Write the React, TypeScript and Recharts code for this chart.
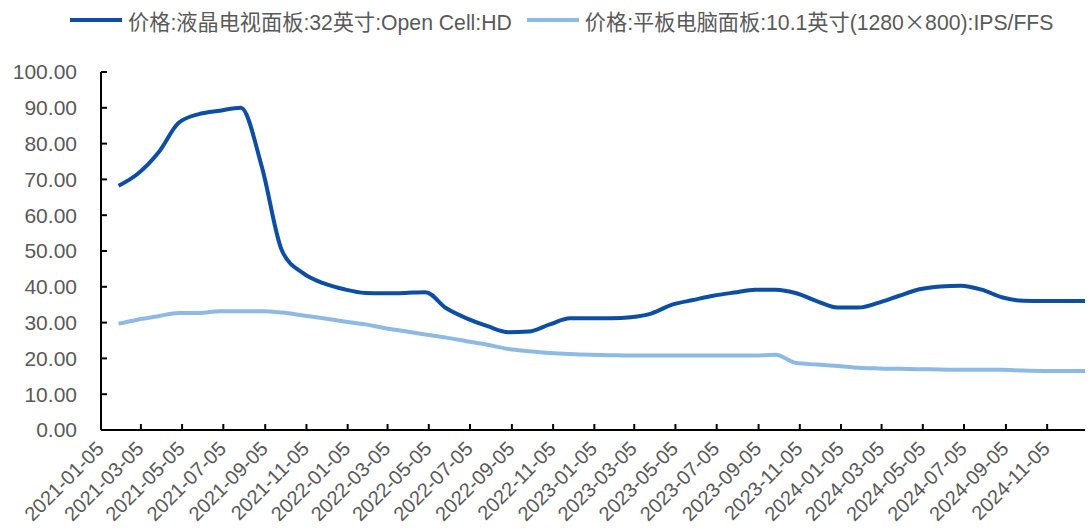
import React from 'react';
import { LineChart, Line, XAxis, YAxis, Legend } from 'recharts';

const dates: string[] = [
  '2021-01-31','2021-02-28','2021-03-31','2021-04-30','2021-05-31','2021-06-30',
  '2021-07-31','2021-08-31','2021-09-30','2021-10-31','2021-11-30','2021-12-31',
  '2022-01-31','2022-02-28','2022-03-31','2022-04-30','2022-05-31','2022-06-30',
  '2022-07-31','2022-08-31','2022-09-30','2022-10-31','2022-11-30','2022-12-31',
  '2023-01-31','2023-02-28','2023-03-31','2023-04-30','2023-05-31','2023-06-30',
  '2023-07-31','2023-08-31','2023-09-30','2023-10-31','2023-11-30','2023-12-31',
  '2024-01-31','2024-02-29','2024-03-31','2024-04-30','2024-05-31','2024-06-30',
  '2024-07-31','2024-08-31','2024-09-30','2024-10-31','2024-11-30','2024-12-31',
];

const tvPanel32: number[] = [
  68.2, 71.5, 77.5, 85.8, 88.3, 89.2, 90.0, 73.5, 50.0, 43.8, 41.0, 39.3,
  38.3, 38.2, 38.3, 38.5, 34.0, 31.2, 29.0, 27.3, 27.5, 29.5, 31.2, 31.2,
  31.2, 31.5, 32.6, 35.0, 36.3, 37.5, 38.4, 39.2, 39.2, 38.2, 36.0, 34.2,
  34.2, 35.5, 37.5, 39.3, 40.1, 40.3, 39.2, 37.0, 36.1, 36.0, 36.0, 36.0,
];

const tabletPanel101: number[] = [
  29.7, 30.8, 31.8, 32.7, 32.7, 33.2, 33.2, 33.2, 32.8, 32.0, 31.2, 30.3,
  29.5, 28.5, 27.6, 26.7, 25.8, 24.8, 23.8, 22.6, 22.0, 21.5, 21.2, 21.0,
  20.9, 20.8, 20.8, 20.8, 20.8, 20.8, 20.8, 20.8, 21.0, 18.7, 18.3, 17.9,
  17.4, 17.2, 17.1, 17.0, 16.9, 16.8, 16.8, 16.8, 16.6, 16.5, 16.5, 16.5,
];

const tickDates: string[] = [
  '2021-01-05','2021-03-05','2021-05-05','2021-07-05','2021-09-05','2021-11-05',
  '2022-01-05','2022-03-05','2022-05-05','2022-07-05','2022-09-05','2022-11-05',
  '2023-01-05','2023-03-05','2023-05-05','2023-07-05','2023-09-05','2023-11-05',
  '2024-01-05','2024-03-05','2024-05-05','2024-07-05','2024-09-05','2024-11-05',
];

const yTicks: number[] = [0, 10, 20, 30, 40, 50, 60, 70, 80, 90, 100];

const seriesNames: string[] = [
  '价格:液晶电视面板:32英寸:Open Cell:HD',
  '价格:平板电脑面板:10.1英寸(1280×800):IPS/FFS',
];

const COLORS = ['#0D4EA5', '#8DBAE5'];

const toTs = (s: string) => {
  const [y, m, d] = s.split('-').map(Number);
  return Date.UTC(y, m - 1, d);
};
const fmt = (ts: number) => {
  const d = new Date(ts);
  const p = (n: number) => String(n).padStart(2, '0');
  return `${d.getUTCFullYear()}-${p(d.getUTCMonth() + 1)}-${p(d.getUTCDate())}`;
};

const data = dates.map((s, i) => ({ t: toTs(s), tv: tvPanel32[i], tab: tabletPanel101[i] }));
const xTicks = tickDates.map(toTs);
const domainStart = toTs('2021-01-05');
const domainEnd = toTs(dates[dates.length - 1]);

const FONT = '"Liberation Sans", Arial, "Noto Sans CJK SC", sans-serif';
const CJK = '"Noto Sans CJK SC", sans-serif';

const XTick = (props: any) => {
  const { x, y, payload } = props;
  return (
    <g transform={`translate(${x + 4},${y})`}>
      <text x={0} y={0} textAnchor="end" transform="rotate(-45)" fill="#595959" fontSize={20} fontFamily={FONT}>
        {fmt(payload.value)}
      </text>
    </g>
  );
};

const renderName = (n: string) => {
  const parts = n.split('×');
  return parts.map((p, i) => (
    <React.Fragment key={i}>
      {i > 0 && <span style={{ fontFamily: CJK }}>×</span>}
      {p}
    </React.Fragment>
  ));
};

const LegendContent = () => (
  <div style={{ display: 'flex', alignItems: 'center', height: 28, fontFamily: FONT, fontSize: 21.2, color: '#595959', whiteSpace: 'nowrap' }}>
    {seriesNames.map((n, i) => (
      <div key={i} style={{ display: 'flex', alignItems: 'center', marginRight: 15 }}>
        <div style={{ width: 52, height: 4, background: COLORS[i], marginRight: 6 }} />
        <span>{renderName(n)}</span>
      </div>
    ))}
  </div>
);

export default function App() {
  return (
    <div style={{ position: 'absolute', left: 0, top: 0 }}>
      <LineChart width={1092} height={531} data={data} margin={{ top: 44, right: 7, bottom: 0, left: 0 }}>
        <Legend
          verticalAlign="top"
          align="left"
          content={<LegendContent />}
          wrapperStyle={{ top: 6, left: 70, width: 1022 }}
        />
        <XAxis
          dataKey="t"
          type="number"
          scale="time"
          domain={[domainStart, domainEnd]}
          ticks={xTicks}
          interval={0}
          height={101}
          tickSize={-6}
          tickMargin={26}
          axisLine={{ stroke: '#000', strokeWidth: 2 }}
          tickLine={{ stroke: '#000', strokeWidth: 2 }}
          tick={<XTick />}
          allowDataOverflow
        />
        <YAxis
          domain={[0, 100]}
          ticks={yTicks}
          interval={0}
          width={101}
          tickSize={-6}
          tickMargin={30}
          axisLine={{ stroke: '#000', strokeWidth: 2 }}
          tickLine={{ stroke: '#000', strokeWidth: 2 }}
          tickFormatter={(v: number) => v.toFixed(2)}
          tick={{ fill: '#595959', fontSize: 21, fontFamily: FONT }}
        />
        <Line type="monotone" dataKey="tv" stroke={COLORS[0]} strokeWidth={4} dot={false} isAnimationActive={false} />
        <Line type="monotone" dataKey="tab" stroke={COLORS[1]} strokeWidth={4} dot={false} isAnimationActive={false} />
      </LineChart>
    </div>
  );
}
